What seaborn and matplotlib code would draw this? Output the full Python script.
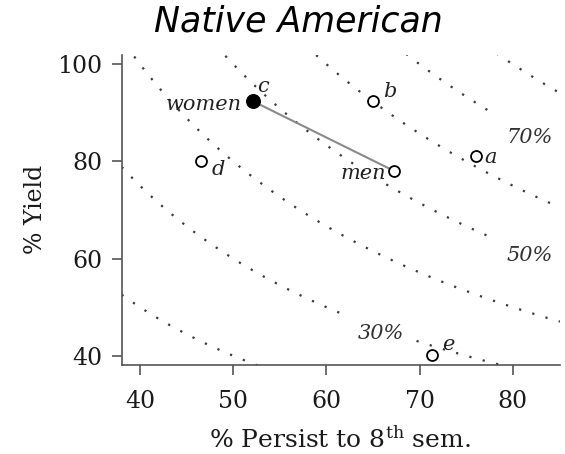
import numpy as np
import pandas as pd
import matplotlib
matplotlib.use("Agg")
import matplotlib.pyplot as plt
import seaborn as sns

# Institutions: % persisting to 8th semester vs % yield
inst_names = ["a", "b", "d", "e"]
inst_persist = [76.1, 65.0, 46.6, 71.3]
inst_yield = [81.1, 92.4, 80.1, 40.1]

# Institution c split by gender
gender_names = ["women", "men"]
gender_persist = [52.1, 67.3]
gender_yield = [92.4, 78.0]
c_persist = 52.1
c_yield = 92.4

# Iso-lines of persist x yield (overall completion share, %)
iso_levels = [20, 30, 40, 50, 60, 70, 80]
iso_label_text = ["30%", "50%", "70%"]
iso_label_level = [30, 50, 70]
iso_label_persist = [65.9, 81.8, 81.8]
iso_label_yield = [44.6, 60.6, 85.0]

x_ticks = [40, 50, 60, 70, 80]
y_ticks = [40, 60, 80, 100]

sns.set_theme(style="white")
plt.rcParams["font.family"] = ["DejaVu Serif"]
plt.rcParams["mathtext.fontset"] = "dejavuserif"

fig = plt.figure(figsize=(5.65, 4.54), dpi=100)
ax = fig.add_axes([0.2154, 0.196, 0.7756, 0.683])

x_lo, x_hi = 38.04, 85.06
y_lo, y_hi = 38.1, 101.9

# gaps left in the iso-lines where the level labels sit
gaps = {30: (61.6, 69.6), 50: (77.7, 90.0), 70: (78.0, 90.0)}

rows = []
seg = 0
xs = np.linspace(x_lo, x_hi, 600)
for lvl in iso_levels:
    ys = lvl * 100.0 / xs
    keep = (ys >= y_lo - 2) & (ys <= y_hi + 2)
    if lvl in gaps:
        g0, g1 = gaps[lvl]
        pieces = [keep & (xs <= g0), keep & (xs >= g1)]
    else:
        pieces = [keep]
    for m in pieces:
        if m.sum() < 2:
            continue
        for xv, yv in zip(xs[m], ys[m]):
            rows.append({"persist": xv, "yield": yv, "segment": seg})
        seg += 1
iso_df = pd.DataFrame(rows)

sns.lineplot(data=iso_df, x="persist", y="yield", units="segment",
             estimator=None, sort=False, color="#3a3a3a", linewidth=1.6,
             linestyle=(0, (1, 5.2)), ax=ax, zorder=1)

for txt, px, py in zip(iso_label_text, iso_label_persist, iso_label_yield):
    ax.text(px, py, txt, ha="center", va="center", fontsize=15,
            style="italic", color="#333333", zorder=4)

# women -> men connector
gdf = pd.DataFrame({"persist": gender_persist, "yield": gender_yield,
                    "group": gender_names})
sns.lineplot(data=gdf, x="persist", y="yield", sort=False, estimator=None,
             color="#8a8a8a", linewidth=1.5, ax=ax, zorder=2)

idf = pd.DataFrame({"persist": inst_persist, "yield": inst_yield,
                    "name": inst_names})
sns.scatterplot(data=idf, x="persist", y="yield", marker="o", s=62,
                facecolor="white", edgecolor="black", linewidth=1.3,
                ax=ax, zorder=5, clip_on=False)
sns.scatterplot(x=[gender_persist[1]], y=[gender_yield[1]], marker="o", s=62,
                facecolor="white", edgecolor="black", linewidth=1.3,
                ax=ax, zorder=5, clip_on=False)
sns.scatterplot(x=[gender_persist[0]], y=[gender_yield[0]], marker="o", s=95,
                facecolor="black", edgecolor="black", linewidth=1.0,
                ax=ax, zorder=6, clip_on=False)

# point labels (offsets in points)
px2pt = 72.0 / 100.0
inst_offsets = {"a": (8, -7), "b": (10, 4), "d": (10, -14), "e": (10, 5)}
for n, px, py in zip(inst_names, inst_persist, inst_yield):
    dx, dy = inst_offsets[n]
    ax.annotate(n, (px, py), xytext=(dx * px2pt, dy * px2pt),
                textcoords="offset points", ha="left", va="baseline",
                fontsize=15, style="italic", color="#222222", zorder=7)
ax.annotate("c", (c_persist, c_yield), xytext=(4 * px2pt, 9 * px2pt),
            textcoords="offset points", ha="left", va="baseline",
            fontsize=15, style="italic", color="#222222", zorder=7)
gender_offsets = [(-10.5, -9), (-8, -8)]
for n, px, py, (dx, dy) in zip(gender_names, gender_persist, gender_yield,
                               gender_offsets):
    ax.annotate(n, (px, py), xytext=(dx * px2pt, dy * px2pt),
                textcoords="offset points", ha="right", va="baseline",
                fontsize=15, style="italic", color="#222222", zorder=7)

ax.set_xlim(x_lo, x_hi)
ax.set_ylim(y_lo, y_hi)
ax.set_xticks(x_ticks)
ax.set_yticks(y_ticks)
ax.set_xlabel("")
ax.set_ylabel("")
for s in ["top", "right"]:
    ax.spines[s].set_visible(False)
for s in ["left", "bottom"]:
    ax.spines[s].set_color("#555555")
    ax.spines[s].set_linewidth(1.2)
ax.tick_params(axis="both", which="major", direction="out", length=7,
               width=1.2, color="#555555", labelsize=17, labelcolor="#1a1a1a",
               left=True, bottom=True)
ax.tick_params(axis="x", pad=11)
ax.tick_params(axis="y", pad=7)

fig.text(36 / 565, 1 - 209 / 454, "% Yield", rotation=90, ha="center",
         va="center", fontsize=17, color="#1a1a1a")
fig.text(340 / 565, 1 - 448 / 454, "% Persist to 8$^{\\mathrm{th}}$ sem.",
         ha="center", va="baseline", fontsize=18, color="#1a1a1a")
fig.text(298 / 565, 1 - 31 / 454, "Native American", ha="center",
         va="baseline", fontsize=25, style="italic", color="black",
         family=["DejaVu Sans"])

fig.savefig("out.png", dpi=100, facecolor="white")
